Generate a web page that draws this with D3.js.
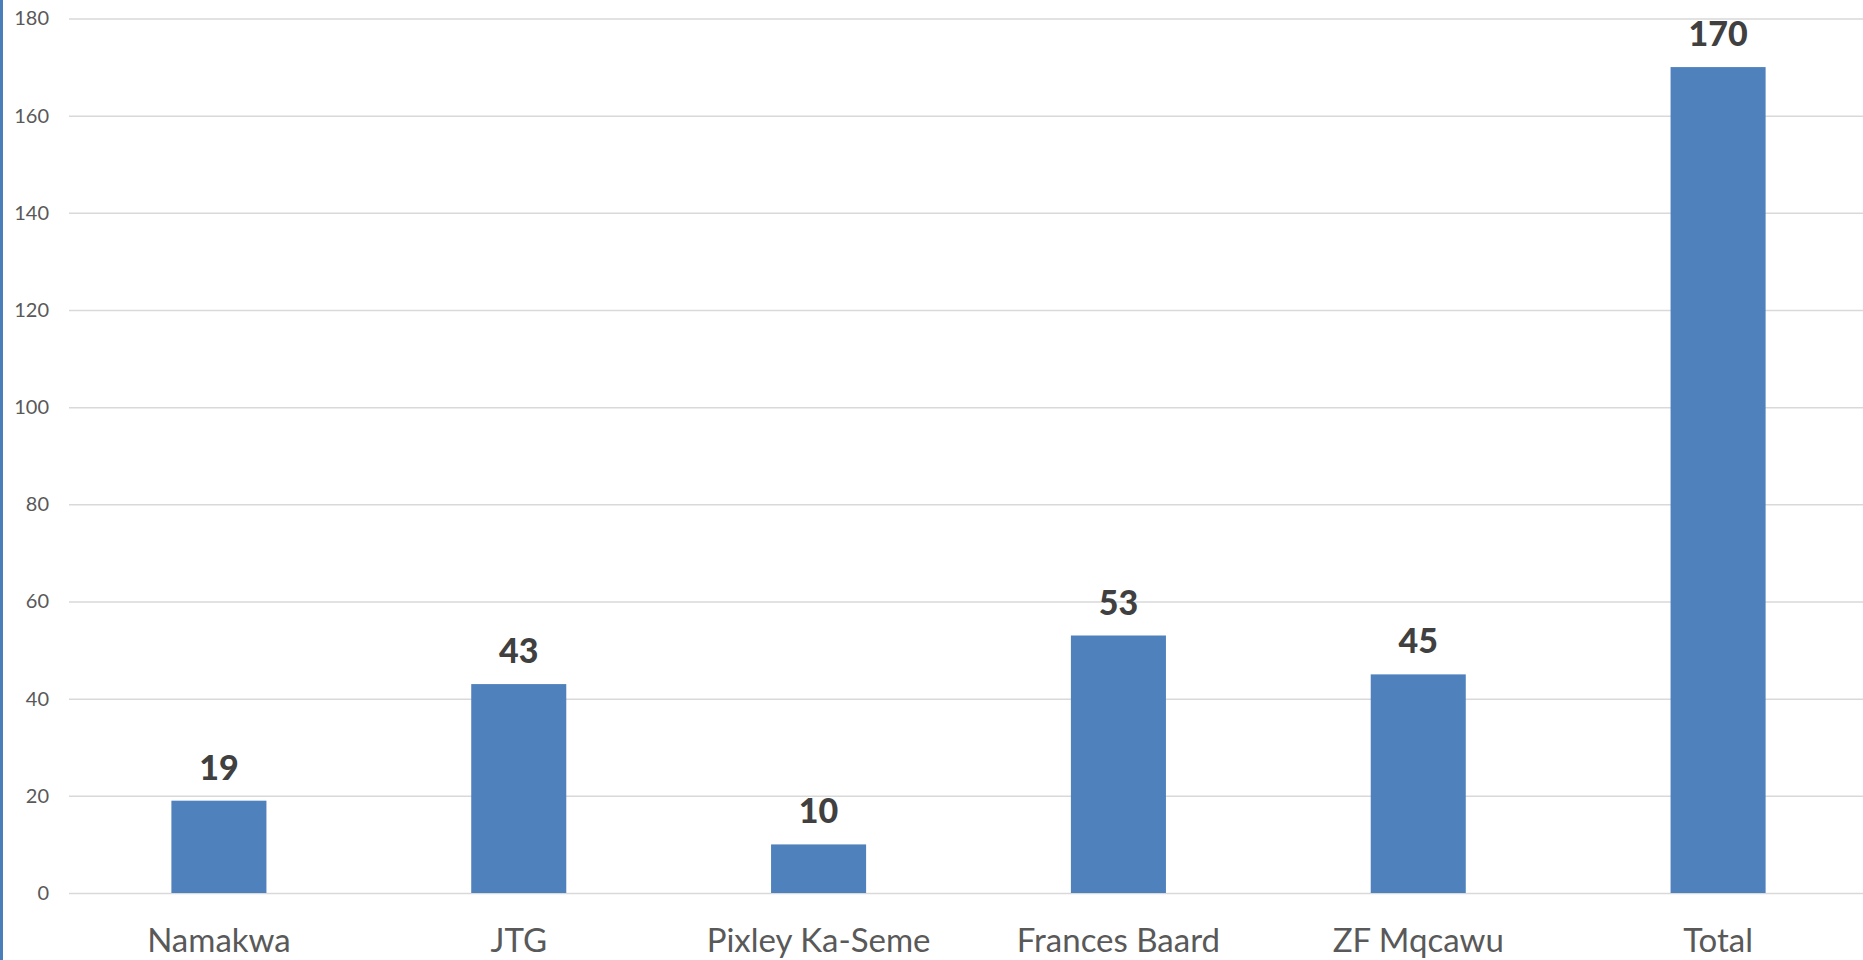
<!DOCTYPE html>
<html>
<head>
<meta charset="utf-8">
<script src="https://cdn.jsdelivr.net/npm/d3@7"></script>
<style>
  html, body { margin: 0; padding: 0; background: #fff; overflow: hidden; }
  svg { display: block; }
</style>
</head>
<body>
<svg id="chart"></svg>
<script>
let categories = ['Namakwa', 'JTG', 'Pixley Ka-Seme', 'Frances Baard', 'ZF Mqcawu', 'Total'];
let values = [19, 43, 10, 53, 45, 170];
let yTicks = [0, 20, 40, 60, 80, 100, 120, 140, 160, 180];

let width = 1863;
let height = 960;
let font = "Lato, 'Open Sans', 'Liberation Sans', sans-serif";

// plot area runs a little past the right edge (cropped screenshot)
let x = d3.scaleBand()
        .domain(categories)
        .range([69, 1868])
        .paddingInner(0.683)
        .paddingOuter(0.3415);

let y = d3.scaleLinear()
        .domain([0, 180])
        .range([893, 18.5]);

let svg = d3.select('#chart')
        .attr('width', width)
        .attr('height', height);

// left border strip
svg.append('rect')
        .attr('x', 0).attr('y', 0)
        .attr('width', 3).attr('height', height)
        .attr('fill', '#4a7ebb');

// gridlines + y labels
let yAxis = d3.axisLeft(y)
        .tickValues(yTicks)
        .tickSize(-(1868 - 69))
        .tickPadding(20);

let gy = svg.append('g')
        .attr('transform', 'translate(69,0)')
        .call(yAxis);
gy.select('.domain').remove();
gy.selectAll('.tick line')
        .attr('stroke', '#d9d9d9')
        .attr('stroke-width', 1.5);
gy.selectAll('.tick text')
        .attr('fill', '#595959')
        .style('font-family', font)
        .style('font-size', '20px');

// bars
svg.append('g')
        .selectAll('rect')
        .data(values)
        .join('rect')
        .attr('x', (d, i) => x(categories[i]))
        .attr('y', d => y(d))
        .attr('width', x.bandwidth())
        .attr('height', d => y(0) - y(d))
        .attr('fill', '#4f81bd');

// value labels
svg.append('g')
        .selectAll('text')
        .data(values)
        .join('text')
        .attr('x', (d, i) => x(categories[i]) + x.bandwidth() / 2)
        .attr('y', d => y(d) - 21)
        .attr('text-anchor', 'middle')
        .attr('fill', '#404040')
        .style('font-family', font)
        .style('font-weight', '900')
        .style('font-size', '34px')
        .text(d => d);

// category labels
let xAxis = d3.axisBottom(x).tickSize(0).tickPadding(0);
let gx = svg.append('g')
        .attr('transform', 'translate(0,893)')
        .call(xAxis);
gx.select('.domain').remove();
gx.selectAll('.tick text')
        .attr('dy', 0)
        .attr('y', 59)
        .attr('fill', '#595959')
        .style('font-family', font)
        .style('font-size', '33px');
</script>
</body>
</html>
